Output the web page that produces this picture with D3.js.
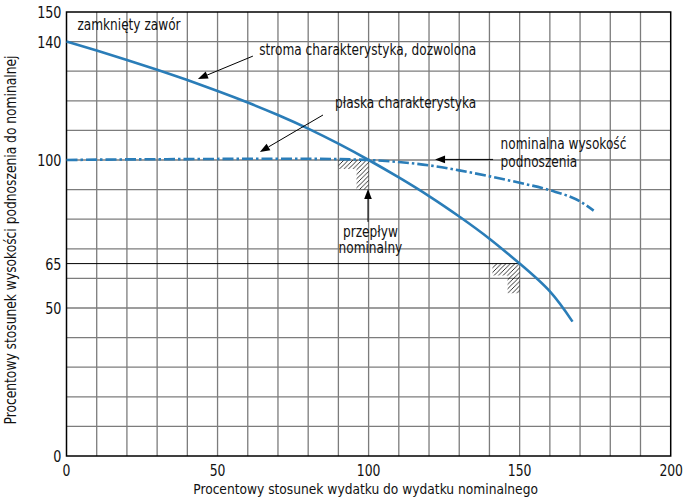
<!DOCTYPE html>
<html><head><meta charset="utf-8">
<script src="https://cdn.jsdelivr.net/npm/d3@7"></script>
<style>
html,body{margin:0;padding:0;background:#fff;}
text{font-family:"Liberation Sans Narrow","Arial Narrow","DejaVu Sans Condensed",sans-serif;fill:#111;}
</style></head>
<body>
<svg id="c" width="686" height="503"></svg>
<script>
// ---- data ----
const xTicks = [0, 50, 100, 150, 200];
const yTicks = [0, 50, 65, 100, 140, 150];
const steepFlow = [0, 10, 20, 30, 40, 50, 60, 70, 80, 90, 100, 110, 120, 130, 140, 150, 160, 167.5];
const steepHead = [140, 137, 133.8, 130.5, 127, 123.3, 119.4, 115.2, 110.6, 105.5, 100, 94.1, 87.8, 80.9, 73.4, 65, 55.6, 45.4];
const flatFlow = [0, 20, 40, 60, 80, 100, 110, 120, 130, 140, 150, 160, 170, 174.5];
const flatHead = [100, 100.2, 100.3, 100.4, 100.4, 100, 99.3, 98.2, 96.5, 94.5, 92.3, 89.8, 86, 82.9];
const hatchNominal = [[90,100],[100,100],[100,90],[96,90],[96,97],[90,97]];
const hatch65 = [[141,65],[150,65],[150,55],[146,55],[146,61],[141,61]];
const refLine65 = [[0,65],[150,65]];
const labels = [
  {t:"zamknięty zawór", x:3.6, y:143.8, a:"start"},
  {t:"stroma charakterystyka, dozwolona", x:63.8, y:135.5, a:"start"},
  {t:"płaska charakterystyka", x:88.9, y:117.5, a:"start"},
  {t:"nominalna wysokość", x:143.7, y:103.6, a:"start"},
  {t:"podnoszenia", x:143.7, y:97.6, a:"start"},
  {t:"przepływ", x:100.6, y:74.1, a:"middle"},
  {t:"nominalny", x:100.6, y:68.5, a:"middle"}
];
const arrows = [
  {from:[61.7,135.1], to:[43.5,127.4]},
  {from:[84.9,115.2], to:[64.0,102.7]},
  {from:[141.2,100.2], to:[122.0,100.2]},
  {from:[99.8,79.1], to:[99.8,90.2]}
];
const xTitle = "Procentowy stosunek wydatku do wydatku nominalnego";
const yTitle = "Procentowy stosunek wysokości podnoszenia do nominalnej";

// ---- drawing ----
const svg = d3.select("#c");
const L = 66.5, R = 670.7, T = 12, B = 456;
const x = d3.scaleLinear().domain([0,200]).range([L,R]);
const y = d3.scaleLinear().domain([0,150]).range([B,T]);
const blue = "#2a7db8";

// horizontally condense text (reference uses a narrow typeface)
function condense(sel, f){
  sel.each(function(){
    const w = this.getComputedTextLength();
    d3.select(this).attr("textLength", w*f).attr("lengthAdjust","spacingAndGlyphs");
  });
}

const defs = svg.append("defs");
const pat = defs.append("pattern").attr("id","hatch").attr("patternUnits","userSpaceOnUse")
  .attr("width",4.5).attr("height",4.5);
pat.append("path").attr("d","M-1,1 L1,-1 M0,4.5 L4.5,0 M3.5,5.5 L5.5,3.5")
  .attr("stroke","#000").attr("stroke-width",0.8);

// grid
const g = svg.append("g");
g.selectAll(".vg").data(d3.range(10,200,10)).join("line")
  .attr("x1",d=>x(d)).attr("x2",d=>x(d)).attr("y1",T).attr("y2",B)
  .attr("stroke","#7c7c7c").attr("stroke-width",1.3);
g.selectAll(".hg").data(d3.range(10,150,10)).join("line")
  .attr("x1",L).attr("x2",R).attr("y1",d=>y(d)).attr("y2",d=>y(d))
  .attr("stroke","#7c7c7c").attr("stroke-width",1.3);

// 65 reference line
svg.append("path").attr("d", d3.line().x(d=>x(d[0])).y(d=>y(d[1]))(refLine65))
  .attr("stroke","#000").attr("stroke-width",1).attr("fill","none");

// hatches
[hatchNominal, hatch65].forEach(h=>{
  svg.append("path").attr("d", d3.line().x(d=>x(d[0])).y(d=>y(d[1]))(h)+"Z")
    .attr("fill","url(#hatch)");
});

// border
svg.append("rect").attr("x",L).attr("y",T).attr("width",R-L).attr("height",B-T)
  .attr("fill","none").attr("stroke","#000").attr("stroke-width",1.5);

// curves
const line = d3.line().x(d=>x(d[0])).y(d=>y(d[1])).curve(d3.curveNatural);
svg.append("path").attr("d", line(steepFlow.map((f,i)=>[f,steepHead[i]])))
  .attr("fill","none").attr("stroke",blue).attr("stroke-width",2.6);
svg.append("path").attr("d", d3.line().x(d=>x(d[0])).y(d=>y(d[1])).curve(d3.curveMonotoneX)(flatFlow.map((f,i)=>[f,flatHead[i]])))
  .attr("fill","none").attr("stroke",blue).attr("stroke-width",2.6)
  .attr("stroke-dasharray","11,3,2.5,3");

// arrows
arrows.forEach(a=>{
  const x1=x(a.from[0]), y1=y(a.from[1]), x2=x(a.to[0]), y2=y(a.to[1]);
  const ang=Math.atan2(y2-y1,x2-x1), len=10, hw=3.8;
  const bx=x2-len*Math.cos(ang), by=y2-len*Math.sin(ang);
  svg.append("line").attr("x1",x1).attr("y1",y1).attr("x2",bx).attr("y2",by)
    .attr("stroke","#000").attr("stroke-width",1);
  const px=-Math.sin(ang)*hw, py=Math.cos(ang)*hw;
  svg.append("path").attr("d",`M${x2},${y2}L${bx+px},${by+py}L${bx-px},${by-py}Z`).attr("fill","#000");
});

// annotation labels
svg.selectAll(".lab").data(labels).join("text")
  .attr("x",d=>x(d.x)).attr("y",d=>y(d.y)).attr("text-anchor",d=>d.a)
  .attr("font-size",15).text(d=>d.t).call(condense,0.9);

// tick labels
svg.selectAll(".yt").data(yTicks).join("text")
  .attr("x",L-5).attr("y",d=>y(d)).attr("dy","0.36em").attr("text-anchor","end")
  .attr("font-size",16.5).text(d=>d).call(condense,0.86);
svg.selectAll(".xt").data(xTicks).join("text")
  .attr("x",d=>d===200 ? 683 : x(d)).attr("y",476).attr("text-anchor",d=>d===200?"end":"middle")
  .attr("font-size",16).text(d=>d).call(condense,0.86);

// titles
svg.append("text").attr("x",(L+R)/2-3).attr("y",494).attr("text-anchor","middle")
  .attr("font-size",14.5).text(xTitle).call(condense,0.94);
svg.append("text").attr("transform",`translate(15.5,240) rotate(-90)`).attr("text-anchor","middle")
  .attr("font-size",15).text(yTitle).call(condense,0.91);
</script>
</body></html>
